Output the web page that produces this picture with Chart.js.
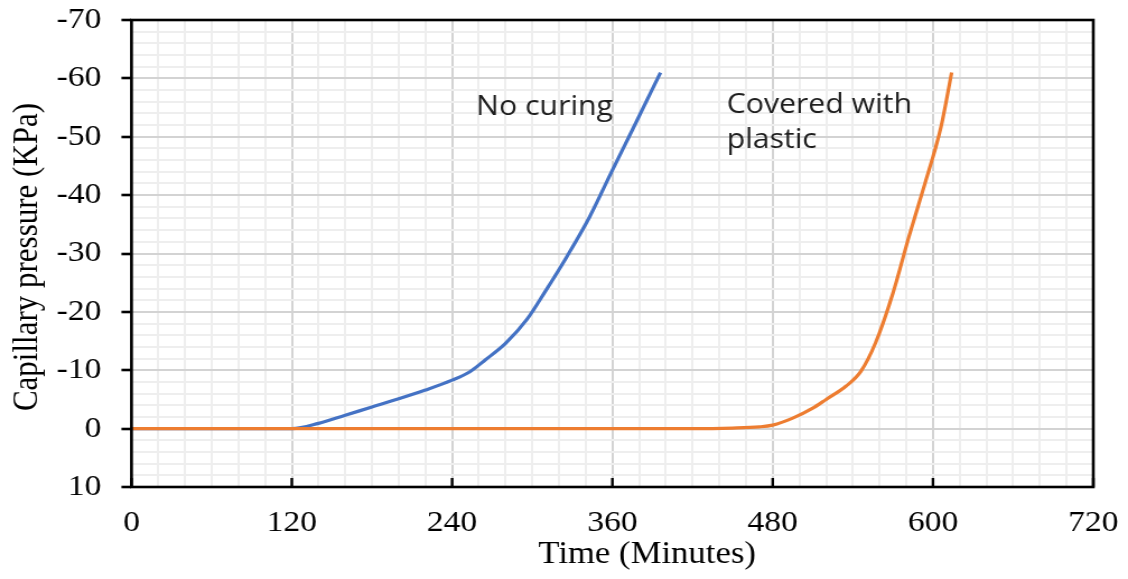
<!DOCTYPE html>
<html>
<head>
<meta charset="utf-8">
<title>Capillary pressure</title>
<script src="https://cdn.jsdelivr.net/npm/chart.js@4/dist/chart.umd.min.js"></script>
<style>
  html, body { margin: 0; background: #fff; overflow: hidden; }
  /* the figure is drawn narrow and widened, so the type comes out broad like the printed plot */
  #wrap { width: 1007px; height: 579px; transform: scaleX(1.12016); transform-origin: 0 0; }
</style>
</head>
<body>
<div id="wrap"><canvas id="pressureChart" width="1007" height="579"></canvas></div>
<script>
// --- DATA ---
// Time in minutes, capillary pressure in kPa (suction plotted as negative)
const noCuringTime = [0, 60, 120, 140, 160, 180, 200, 220, 240, 253, 265, 280, 296, 310, 326, 343, 359, 375, 396];
const noCuringPressure = [0, 0, 0, -0.9, -2.3, -3.7, -5.1, -6.6, -8.3, -9.7, -11.8, -14.6, -18.7, -23.6, -29.5, -36.3, -43.8, -51.2, -61];

const plasticTime = [0, 240, 420, 450, 470, 480, 495, 510, 520, 535, 546, 557, 570, 582, 594, 606, 614];
const plasticPressure = [0, 0, 0, -0.1, -0.3, -0.6, -1.8, -3.5, -5.0, -7.3, -9.8, -14.7, -23.2, -32.9, -42, -51.7, -61];

const xLabelTicks = [0, 120, 240, 360, 480, 600, 720];
const yLabelTicks = [-70, -60, -50, -40, -30, -20, -10, 0, 10];

// text written next to each curve, anchored in chart units
const curveNotes = [
    { lines: ['No curing'], x: 258, y: -53.7 },
    { lines: ['Covered with', 'plastic'], x: 445.5, y: -54.1 }
];

// axis titles, centred on these axis values
const xTitle = { text: 'Time (Minutes)', at: 386 };
const yTitle = { text: 'Capillary pressure (KPa)', at: -29.4 };

const toPoints = (xs, ys) => xs.map((x, i) => ({ x: x, y: ys[i] }));
const serif = '"Liberation Serif", "Times New Roman", serif';

// frame, inward x ticks, axis titles and curve notes
const decorations = {
    id: 'decorations',
    afterDatasetsDraw(chart) {
        const { ctx, scales } = chart;
        ctx.save();
        ctx.fillStyle = '#1e1e1e';
        ctx.font = '27px "Open Sans", sans-serif';
        ctx.textAlign = 'left';
        ctx.textBaseline = 'alphabetic';
        curveNotes.forEach(note => {
            const px = scales.x.getPixelForValue(note.x);
            const py = scales.y.getPixelForValue(note.y);
            note.lines.forEach((line, i) => ctx.fillText(line, px, py + i * 35));
        });
        ctx.restore();
    },
    afterDraw(chart) {
        const { ctx, chartArea, scales } = chart;
        ctx.save();
        ctx.strokeStyle = '#000';
        ctx.lineWidth = 2.4;
        xLabelTicks.forEach(v => {
            const px = scales.x.getPixelForValue(v);
            ctx.beginPath();
            ctx.moveTo(px, chartArea.bottom);
            ctx.lineTo(px, chartArea.bottom - 9);
            ctx.stroke();
        });
        ctx.lineWidth = 2.6;
        ctx.strokeRect(chartArea.left, chartArea.top, chartArea.right - chartArea.left, chartArea.bottom - chartArea.top);

        ctx.fillStyle = '#000';
        ctx.font = '31px ' + serif;
        ctx.textAlign = 'center';
        ctx.textBaseline = 'middle';
        ctx.fillText(xTitle.text, scales.x.getPixelForValue(xTitle.at), chartArea.bottom + 68);
        ctx.translate(chartArea.left - 92.4, scales.y.getPixelForValue(yTitle.at));
        ctx.rotate(-Math.PI / 2);
        ctx.fillText(yTitle.text, 0, 0);
        ctx.restore();
    }
};

const isMajorX = v => xLabelTicks.includes(v);
const isMajorY = v => yLabelTicks.includes(v);

new Chart(document.getElementById('pressureChart'), {
    type: 'line',
    data: {
        datasets: [
            {
                label: 'No curing',
                data: toPoints(noCuringTime, noCuringPressure),
                borderColor: '#4472C4',
                borderWidth: 3.2,
                pointRadius: 0,
                cubicInterpolationMode: 'monotone',
                order: 2
            },
            {
                label: 'Covered with plastic',
                data: toPoints(plasticTime, plasticPressure),
                borderColor: '#ED7D31',
                borderWidth: 3.2,
                pointRadius: 0,
                cubicInterpolationMode: 'monotone',
                order: 1
            }
        ]
    },
    options: {
        responsive: false,
        animation: false,
        devicePixelRatio: 1,
        layout: { padding: { left: 0, right: 31, top: 20, bottom: 0 } },
        plugins: {
            legend: { display: false },
            tooltip: { enabled: false }
        },
        scales: {
            x: {
                type: 'linear',
                min: 0,
                max: 720,
                afterFit: scale => {
                    scale.height = 92;
                    scale.paddingLeft = 0;
                    scale.paddingRight = 0;
                },
                border: { display: false },
                grid: {
                    drawTicks: false,
                    color: ctx => isMajorX(ctx.tick.value) ? '#d3d3d3' : '#eeeeee',
                    lineWidth: 2
                },
                ticks: {
                    stepSize: 20,
                    autoSkip: false,
                    maxRotation: 0,
                    padding: 18,
                    color: '#000',
                    font: { family: serif, size: 30 },
                    callback: v => isMajorX(v) ? String(v) : ''
                }
            },
            y: {
                type: 'linear',
                reverse: true,
                min: -70,
                max: 10,
                afterFit: scale => {
                    scale.width = 117.4;
                    scale.paddingTop = 0;
                    scale.paddingBottom = 0;
                },
                border: { display: false },
                grid: {
                    color: ctx => isMajorY(ctx.tick.value) ? '#d3d3d3' : '#eeeeee',
                    lineWidth: 2,
                    tickLength: 9,
                    tickWidth: 2.6,
                    tickColor: ctx => isMajorY(ctx.tick.value) ? '#000' : 'rgba(0,0,0,0)'
                },
                ticks: {
                    stepSize: 2,
                    autoSkip: false,
                    padding: 18,
                    color: '#000',
                    font: { family: serif, size: 30 },
                    callback: v => isMajorY(v) ? String(v) : ''
                }
            }
        }
    },
    plugins: [decorations]
});
</script>
</body>
</html>
